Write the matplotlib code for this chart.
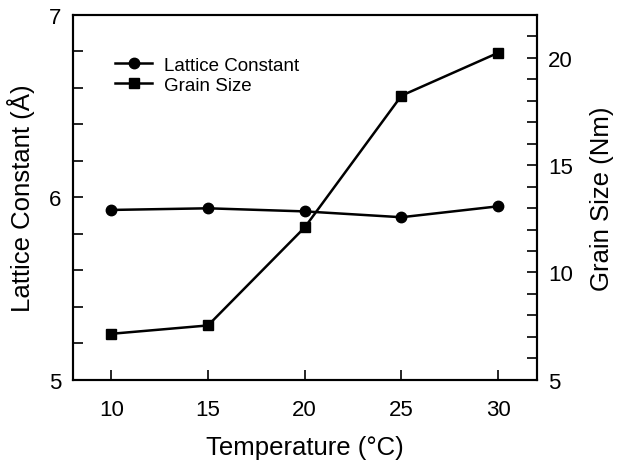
import matplotlib.pyplot as plt
from matplotlib.ticker import MultipleLocator

plt.rcParams['font.family'] = ['Liberation Sans', 'DejaVu Sans']

# datos
temperatura = [10, 15, 20, 25, 30]
constante_red = [5.931, 5.940, 5.923, 5.891, 5.951]
tamano_grano = [7.14, 7.53, 12.1, 18.24, 20.24]

fig = plt.figure(figsize=(6.2, 4.64), dpi=100)
ax = fig.add_axes([0.117, 0.1795, 0.749, 0.786])
ax2 = ax.twinx()

l1, = ax.plot(temperatura, constante_red, color='black', lw=1.8,
              marker='o', markersize=7.5, label='Lattice Constant')
l2, = ax2.plot(temperatura, tamano_grano, color='black', lw=1.8,
               marker='s', markersize=7, label='Grain Size')

ax.set_xlim(8, 32)
ax.set_ylim(5, 7)
ax2.set_ylim(5, 22)

ax.set_xticks(temperatura)
ax.yaxis.set_major_locator(MultipleLocator(1))
ax.yaxis.set_minor_locator(MultipleLocator(0.2))
ax2.yaxis.set_major_locator(MultipleLocator(5))
ax2.yaxis.set_minor_locator(MultipleLocator(1))

for a in (ax, ax2):
    a.tick_params(which='both', direction='in', length=7, width=1.2, labelsize=16, pad=8)
    for s in a.spines.values():
        s.set_linewidth(1.5)
ax.tick_params(axis='y', which='both', right=False)
ax.tick_params(axis='x', top=False, pad=14)

ax.set_xlabel('Temperature (°C)', fontsize=18.5, labelpad=11)
ax.set_ylabel('Lattice Constant (Å)', fontsize=18.5, labelpad=10)
ax2.set_ylabel('Grain Size (Nm)', fontsize=18.5, labelpad=12)

ax2.legend(handles=[l1, l2], loc='upper left', bbox_to_anchor=(0.055, 0.932),
           frameon=False, fontsize=13.5, handlelength=2.0, handletextpad=0.6,
           labelspacing=0.15)

fig.savefig('out.png', dpi=100)
